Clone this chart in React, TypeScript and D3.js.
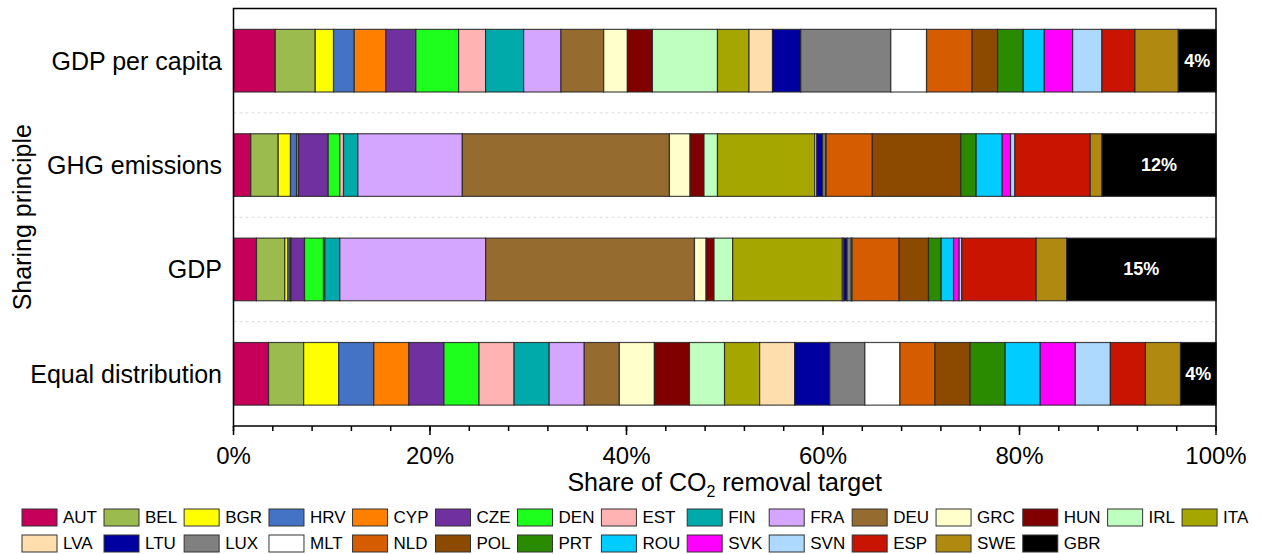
import React from "react";
import * as d3 from "d3";

// Sharing principles (rows, top to bottom)
const principles = ["GDP per capita", "GHG emissions", "GDP", "Equal distribution"];

// Member states in stacking order
const countries = [
  "AUT", "BEL", "BGR", "HRV", "CYP", "CZE", "DEN", "EST", "FIN", "FRA", "DEU", "GRC", "HUN", "IRL",
  "ITA", "LVA", "LTU", "LUX", "MLT", "NLD", "POL", "PRT", "ROU", "SVK", "SVN", "ESP", "SWE", "GBR",
];

const countryColors = [
  "#C6005A", "#9BBB4F", "#FFFF00", "#4472C4", "#FF8000", "#7030A0", "#1EFF1E", "#FFB3B3", "#00AAAA",
  "#D5A6FF", "#956B30", "#FFFFCC", "#800000", "#BFFFBF", "#A6A600", "#FFDEAD", "#0000A0", "#808080",
  "#FFFFFF", "#D65C00", "#8B4A00", "#2A8A00", "#00CCFF", "#FF00FF", "#ADD8FF", "#C81400", "#B08A10",
  "#000000",
];

// Share of the CO2 removal target (%) per country, for each principle
const gdpPerCapita = [
  4.25, 4.07, 1.86, 2.11, 3.22, 3.05, 4.35, 2.75, 3.87, 3.8, 4.35, 2.41, 2.55, 6.62,
  3.21, 2.39, 2.88, 9.16, 3.64, 4.64, 2.59, 2.61, 2.14, 2.89, 2.98, 3.36, 4.41, 3.84,
];
const ghgEmissions = [
  1.76, 2.79, 1.25, 0.62, 0.2, 3.02, 1.18, 0.38, 1.46, 10.63, 21.08, 2.1, 1.42, 1.37,
  9.9, 0.21, 0.59, 0.3, 0.06, 4.7, 9.01, 1.56, 2.65, 0.85, 0.44, 7.67, 1.19, 11.61,
];
const gdp = [
  2.34, 2.88, 0.31, 0.24, 0.09, 1.37, 1.93, 0.14, 1.52, 14.84, 21.26, 1.18, 0.81, 1.9,
  11.16, 0.15, 0.33, 0.43, 0.08, 4.79, 2.99, 1.29, 1.26, 0.57, 0.27, 7.57, 3.1, 15.2,
];
const equalDistribution = [
  3.57, 3.57, 3.57, 3.57, 3.57, 3.57, 3.57, 3.57, 3.57, 3.57, 3.57, 3.57, 3.57, 3.57,
  3.57, 3.57, 3.57, 3.57, 3.57, 3.57, 3.57, 3.57, 3.57, 3.57, 3.57, 3.57, 3.57, 3.61,
];

const xTicks = [0, 20, 40, 60, 80, 100];
const xMinorTicks = d3.range(0, 101, 4);

const W = 1263;
const H = 554;
const FONT = "'Liberation Sans', Arial, sans-serif";

const seriesByPrinciple = [gdpPerCapita, ghgEmissions, gdp, equalDistribution];

function measure(text: string, font: string): number {
  const c = document.createElement("canvas").getContext("2d");
  if (!c) return text.length * 11;
  c.font = font;
  return c.measureText(text).width;
}

export default function App() {
  const left = 233.5;
  const right = 1216;
  const top = 8.5;
  const bottom = 426;

  const x = d3.scaleLinear().domain([0, 100]).range([left, right]);
  const y = d3
    .scaleBand<string>()
    .domain(principles)
    .range([top, bottom])
    .paddingInner(0.4)
    .paddingOuter(0.2);

  const table = principles.map((p, i) => {
    const row: Record<string, number | string> = { principle: p };
    countries.forEach((c, j) => (row[c] = seriesByPrinciple[i][j]));
    return row;
  });
  const stacked = d3
    .stack<Record<string, number | string>>()
    .keys(countries)
    .value((d, k) => d[k] as number)(table);

  const color = d3.scaleOrdinal<string, string>().domain(countries).range(countryColors);

  // Separators between principle rows
  const step = y.step();
  const separators = principles.slice(1).map((p) => (y(p) as number) - step * 0.2);

  // Legend: two rows, columns sized by the widest label in each column
  const legendFont = `17px ${FONT}`;
  const perRow = 15;
  const rows = [countries.slice(0, perRow), countries.slice(perRow)];
  const colX: number[] = [];
  let cx = 22;
  for (let i = 0; i < perRow; i++) {
    colX.push(cx);
    const wA = measure(rows[0][i] || "", legendFont);
    const wB = measure(rows[1][i] || "", legendFont);
    cx += 35 + 6 + Math.max(wA, wB) + 7;
  }
  const legendRowY = [509, 535];

  const last = stacked[stacked.length - 1];

  return (
    <svg
      width={W}
      height={H}
      style={{ position: "absolute", left: 0, top: 0, background: "#fff" }}
      fontFamily={FONT}
    >
      {/* row separators */}
      {separators.map((sy, i) => (
        <line
          key={i}
          x1={left}
          x2={right}
          y1={sy}
          y2={sy}
          stroke="#d8d8d8"
          strokeWidth={1}
          strokeDasharray="3 3"
        />
      ))}

      {/* stacked bars */}
      {stacked.map((layer) => (
        <g key={layer.key} fill={color(layer.key)}>
          {layer.map((seg, i) => (
            <rect
              key={i}
              x={x(seg[0])}
              y={y(principles[i])}
              width={Math.max(0, x(seg[1]) - x(seg[0]))}
              height={y.bandwidth()}
              stroke="#262626"
              strokeOpacity={0.85}
              strokeWidth={1.2}
            />
          ))}
        </g>
      ))}

      {/* value labels on the last segment */}
      {last.map((seg, i) => (
        <text
          key={i}
          x={(x(seg[0]) + x(seg[1])) / 2}
          y={(y(principles[i]) as number) + y.bandwidth() / 2}
          textAnchor="middle"
          dominantBaseline="central"
          fill="#fff"
          fontWeight="bold"
          fontSize={18}
        >
          {`${Math.round(seg[1] - seg[0])}%`}
        </text>
      ))}

      {/* frame */}
      <rect x={left} y={top} width={right - left} height={bottom - top} fill="none" stroke="#000" strokeWidth={1.5} />

      {/* x ticks */}
      {xMinorTicks.map((t) => (
        <line key={`m${t}`} x1={x(t)} x2={x(t)} y1={bottom} y2={bottom + 5} stroke="#000" strokeWidth={1.5} />
      ))}
      {xTicks.map((t) => (
        <g key={t}>
          <line x1={x(t)} x2={x(t)} y1={bottom} y2={bottom + 9} stroke="#000" strokeWidth={1.5} />
          <text x={x(t)} y={455} textAnchor="middle" dominantBaseline="central" fontSize={24} fill="#000">
            {`${t}%`}
          </text>
        </g>
      ))}

      {/* x title */}
      <text x={(left + right) / 2} y={491} textAnchor="middle" fontSize={25} fill="#000">
        Share of CO
        <tspan fontSize={16} dy={6}>2</tspan>
        <tspan dy={-6}> removal target</tspan>
      </text>

      {/* category labels */}
      {principles.map((p) => (
        <text
          key={p}
          x={222}
          y={(y(p) as number) + y.bandwidth() / 2}
          textAnchor="end"
          dominantBaseline="central"
          fontSize={25}
          fill="#000"
        >
          {p}
        </text>
      ))}

      {/* y title */}
      <text
        transform={`translate(22,${(top + bottom) / 2}) rotate(-90)`}
        textAnchor="middle"
        dominantBaseline="central"
        fontSize={25}
        fill="#000"
      >
        Sharing principle
      </text>

      {/* legend */}
      {rows.map((r, ri) =>
        r.map((c, ci) => (
          <g key={c} transform={`translate(${colX[ci]},${legendRowY[ri]})`}>
            <rect width={35} height={17} fill={color(c)} stroke="#333" strokeWidth={1} />
            <text x={41} y={8.5} dominantBaseline="central" fontSize={17} fill="#000">
              {c}
            </text>
          </g>
        ))
      )}
    </svg>
  );
}
